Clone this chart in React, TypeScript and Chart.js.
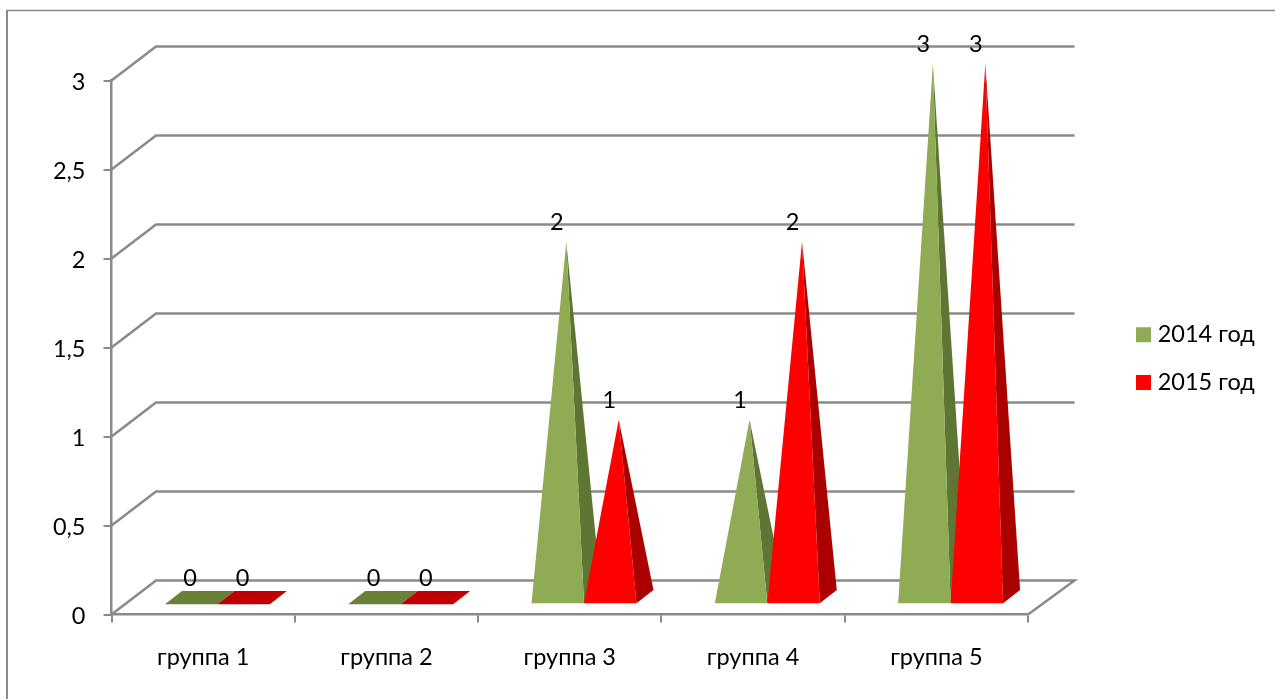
import React, { useEffect, useRef } from "react";
import { Chart, registerables } from "chart.js";

Chart.register(...registerables);

const categories = ["группа 1", "группа 2", "группа 3", "группа 4", "группа 5"];
const series2014 = [0, 0, 2, 1, 3];
const series2015 = [0, 0, 1, 2, 3];
const seriesNames = ["2014 год", "2015 год"];
const frontColors = ["#8FAB54", "#FF0000"];
const sideColors = ["#5F7534", "#AB0000"];
const floorColors = ["#6A8038", "#C00000"];
const FONT = "Lato, Carlito, 'Open Sans', sans-serif";
const FONT_SIZE = 23.5;
const GREY = "#8A8A8A";

const WALL_DX = 44.5;
const WALL_DY = 34;
const RIGHT_DX = 46.5;
const FRONT_DX = 14.25;
const FRONT_DY = 10.2;
const BASE_DX = 17;
const BASE_DY = 13.3;

const scene = {
  id: "scene",
  beforeDraw(chart: any) {
    const { ctx } = chart;
    ctx.save();
    ctx.strokeStyle = GREY;
    ctx.lineWidth = 2;
    ctx.beginPath();
    ctx.moveTo(7, 699);
    ctx.lineTo(7, 10.5);
    ctx.stroke();
    ctx.lineWidth = 1.5;
    ctx.beginPath();
    ctx.moveTo(6, 10.5);
    ctx.lineTo(1275, 10.5);
    ctx.stroke();
    ctx.restore();
  },
  beforeDatasetsDraw(chart: any) {
    const { ctx, chartArea, scales } = chart;
    const y = scales.y;
    ctx.save();
    ctx.strokeStyle = GREY;
    ctx.lineWidth = 2.5;
    y.ticks.forEach((_: any, i: number) => {
      const py = y.getPixelForTick(i);
      ctx.beginPath();
      ctx.moveTo(chartArea.left, py);
      ctx.lineTo(chartArea.left + WALL_DX, py - WALL_DY);
      ctx.lineTo(chartArea.right + RIGHT_DX, py - WALL_DY);
      if (i === 0) {
        ctx.lineTo(chartArea.right, py);
      }
      ctx.stroke();
    });
    ctx.restore();
  },
  beforeDatasetDraw() {
    return false;
  },
  afterDatasetsDraw(chart: any) {
    const { ctx } = chart;
    ctx.save();
    chart.data.datasets.forEach((ds: any, di: number) => {
      chart.getDatasetMeta(di).data.forEach((bar: any) => {
        const xc = bar.x + FRONT_DX;
        const base = bar.base - FRONT_DY;
        const xl = xc - bar.width / 2;
        const xr = xc + bar.width / 2;
        const backY = base - BASE_DY;
        const apexX = xc + BASE_DX / 2;
        const apexY = bar.y - FRONT_DY - BASE_DY / 2;
        const poly = (pts: number[][], color: string) => {
          ctx.fillStyle = color;
          ctx.beginPath();
          pts.forEach((p, k) => (k ? ctx.lineTo(p[0], p[1]) : ctx.moveTo(p[0], p[1])));
          ctx.closePath();
          ctx.fill();
        };
        if (bar.y === bar.base) {
          poly([[xl, base], [xr, base], [xr + BASE_DX, backY], [xl + BASE_DX, backY]], floorColors[di]);
        } else {
          poly([[xr, base], [xr + BASE_DX, backY], [apexX, apexY]], sideColors[di]);
          poly([[xl, base], [xr, base], [apexX, apexY]], frontColors[di]);
        }
      });
    });
    ctx.fillStyle = "#000";
    ctx.font = `${FONT_SIZE}px ${FONT}`;
    ctx.textAlign = "center";
    ctx.textBaseline = "middle";
    chart.data.datasets.forEach((ds: any, di: number) => {
      chart.getDatasetMeta(di).data.forEach((bar: any, i: number) => {
        ctx.fillText(String(ds.data[i]), bar.x + 13.25, bar.y - 36.5);
      });
    });
    ctx.restore();
  },
  afterLayout(chart: any) {
    const lg = chart.legend;
    lg.left = 1116.85;
    lg.right = 1275;
    lg.top = 298.85;
    lg.bottom = 699;
  },
};

export default function App() {
  const ref = useRef<HTMLCanvasElement>(null);
  useEffect(() => {
    const chart = new Chart(ref.current as HTMLCanvasElement, {
      type: "bar",
      data: {
        labels: categories,
        datasets: [
          { label: seriesNames[0], data: series2014, backgroundColor: frontColors[0] },
          { label: seriesNames[1], data: series2015, backgroundColor: frontColors[1] },
        ],
      },
      options: {
        animation: false,
        responsive: false,
        devicePixelRatio: 1,
        layout: { padding: { top: 80.5, left: 0, right: 247, bottom: 0 } },
        datasets: { bar: { categoryPercentage: 0.5725, barPercentage: 1 } },
        plugins: {
          title: { display: false },
          tooltip: { enabled: false },
          legend: {
            display: true,
            position: "chartArea",
            align: "start",
            labels: {
              usePointStyle: true,
              pointStyle: "rect",
              boxWidth: 4.9,
              boxHeight: 15,
              padding: 24.2,
              color: "#000",
              font: { family: FONT, size: FONT_SIZE },
            },
          },
        },
        scales: {
          x: {
            offset: true,
            afterFit(s: any) {
              s.height = 84.5;
            },
            grid: { offset: true, drawOnChartArea: false, drawTicks: true, tickLength: 8, color: GREY, lineWidth: 2 },
            border: { display: true, color: GREY, width: 2.5 },
            ticks: { color: "#000", font: { family: FONT, size: FONT_SIZE }, padding: 21, autoSkip: false, maxRotation: 0 },
          },
          y: {
            min: 0,
            max: 3,
            afterFit(s: any) {
              s.width = 111.5;
            },
            grid: { drawOnChartArea: false, drawTicks: true, tickLength: 8, color: GREY, lineWidth: 2 },
            border: { display: true, color: GREY, width: 2.5 },
            ticks: {
              stepSize: 0.5,
              color: "#000",
              font: { family: FONT, size: FONT_SIZE },
              padding: 18,
              labelOffset: 1.5,
              callback: (v: any) => String(v).replace(".", ","),
            },
          },
        },
      },
      plugins: [scene],
    } as any);
    return () => chart.destroy();
  }, []);
  return (
    <div style={{ position: "fixed", left: 0, top: 0, width: 1275, height: 699, background: "#fff" }}>
      <canvas ref={ref} width={1275} height={699} style={{ display: "block", width: 1275, height: 699 }} />
    </div>
  );
}
